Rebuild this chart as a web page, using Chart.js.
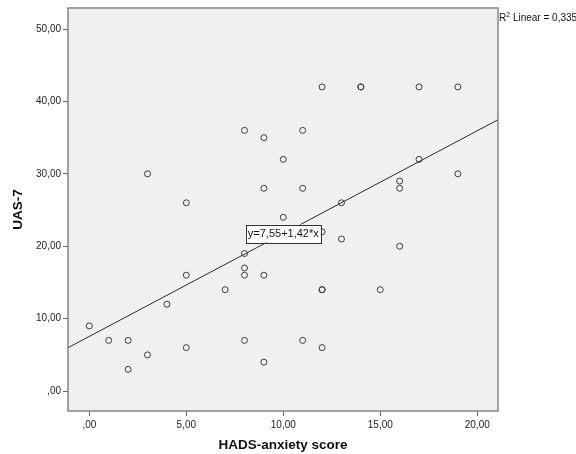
<!DOCTYPE html>
<html>
<head>
<meta charset="utf-8">
<script src="https://cdn.jsdelivr.net/npm/chart.js@4"></script>
<style>
  html, body { margin: 0; padding: 0; background: #fff; }
  #wrap { width: 576px; height: 454px; }
</style>
</head>
<body>
<div id="wrap"><canvas id="scatter" width="576" height="454"></canvas></div>
<script>
// === Data ===
const anxiety = [0, 1, 2, 2, 3, 3, 4, 5, 5, 5, 7, 8, 8, 8, 8, 8, 9, 9, 9, 9, 10, 10,
  11, 11, 11, 12, 12, 12, 12, 12, 13, 13, 14, 14, 15, 16, 16, 16, 17, 17, 19, 19];
const uas7 = [9, 7, 7, 3, 5, 30, 12, 16, 6, 26, 14, 19, 17, 16, 7, 36, 16, 4, 35, 28, 24, 32,
  36, 28, 7, 42, 22, 14, 14, 6, 26, 21, 42, 42, 14, 29, 28, 20, 42, 32, 42, 30];

const xTicks = [0, 5, 10, 15, 20];
const yTicks = [0, 10, 20, 30, 40, 50];
const xRange = [-1.1, 21.07];
const yRange = [-2.75, 52.9];

// fit line as printed on the chart
const intercept = 7.55;
const slope = 1.42;
const fitLabel = "y=7,55+1,42*x";
const fitLabelAt = 10;
const r2Text = " Linear = 0,335";

const FONT = "'Liberation Sans', Arial, sans-serif";

const fmt = v => (v === 0 ? ",00" : v.toFixed(2).replace(".", ","));

const points = anxiety.map((x, i) => ({ x: x, y: uas7[i] }));
const fitLine = xRange.map(x => ({ x: x, y: intercept + slope * x }));

// plot background + frame + labels
const frame = {
  id: "frame",
  beforeDatasetsDraw(chart) {
    const { ctx, chartArea: a } = chart;
    ctx.save();
    ctx.fillStyle = "#f0f0f0";
    ctx.fillRect(a.left, a.top, a.right - a.left, a.bottom - a.top);
    ctx.restore();
  },
  afterDatasetsDraw(chart) {
    const { ctx, chartArea: a, scales } = chart;
    ctx.save();
    ctx.strokeStyle = "#858585";
    ctx.lineWidth = 1.5;
    ctx.strokeRect(a.left, a.top, a.right - a.left, a.bottom - a.top);

    // equation box on the line
    const cx = scales.x.getPixelForValue(fitLabelAt);
    const cy = scales.y.getPixelForValue(intercept + slope * fitLabelAt);
    ctx.font = "11px " + FONT;
    const w = ctx.measureText(fitLabel).width + 4;
    const h = 18;
    ctx.fillStyle = "#fff";
    ctx.fillRect(cx - w / 2, cy - h / 2, w, h);
    ctx.strokeStyle = "#333";
    ctx.lineWidth = 1;
    ctx.strokeRect(Math.round(cx - w / 2) + 0.5, Math.round(cy - h / 2) + 0.5, Math.round(w), h);
    ctx.fillStyle = "#111";
    ctx.textAlign = "center";
    ctx.textBaseline = "middle";
    ctx.fillText(fitLabel, cx, cy + 0.5);

    // R² note outside the frame
    let tx = a.right + 1;
    const ty = a.top + 13;
    ctx.textAlign = "left";
    ctx.textBaseline = "alphabetic";
    ctx.font = "10px " + FONT;
    ctx.fillText("R", tx, ty);
    tx += ctx.measureText("R").width;
    ctx.font = "7px " + FONT;
    ctx.fillText("2", tx, ty - 4);
    tx += ctx.measureText("2").width;
    ctx.font = "10px " + FONT;
    ctx.fillText(r2Text, tx, ty);
    ctx.restore();
  }
};

new Chart(document.getElementById("scatter"), {
  type: "scatter",
  data: {
    datasets: [
      {
        data: points,
        pointRadius: 3,
        pointBorderWidth: 1,
        pointBorderColor: "#3c3c3c",
        pointBackgroundColor: "rgba(0,0,0,0)",
        order: 1
      },
      {
        type: "line",
        data: fitLine,
        borderColor: "#2b2b2b",
        borderWidth: 1,
        pointRadius: 0,
        fill: false,
        order: 2
      }
    ]
  },
  options: {
    responsive: false,
    devicePixelRatio: 1,
    animation: false,
    layout: { padding: { top: 6, right: 78, left: 0, bottom: 0 } },
    plugins: { legend: { display: false }, tooltip: { enabled: false } },
    scales: {
      x: {
        type: "linear",
        min: xRange[0],
        max: xRange[1],
        afterBuildTicks: axis => { axis.ticks = xTicks.map(v => ({ value: v })); },
        afterFit: axis => { axis.height = 43; },
        border: { display: false },
        grid: { drawOnChartArea: false, drawTicks: true, tickLength: 5, tickColor: "#666" },
        ticks: { padding: 3, color: "#222", font: { family: FONT, size: 10 }, callback: v => fmt(v), maxRotation: 0 },
        title: {
          display: true,
          text: "HADS-anxiety score",
          color: "#111",
          font: { family: FONT, size: 13.5, weight: "bold" },
          padding: { top: 0, bottom: 1 }
        }
      },
      y: {
        type: "linear",
        min: yRange[0],
        max: yRange[1],
        afterBuildTicks: axis => { axis.ticks = yTicks.map(v => ({ value: v })); },
        afterFit: axis => { axis.width = 68; },
        border: { display: false },
        grid: { drawOnChartArea: false, drawTicks: true, tickLength: 5, tickColor: "#666" },
        ticks: { padding: 2, color: "#222", font: { family: FONT, size: 10 }, callback: v => fmt(v) },
        title: {
          display: true,
          text: "UAS-7",
          color: "#111",
          font: { family: FONT, size: 13.5, weight: "bold" },
          padding: { top: 10, bottom: 0 }
        }
      }
    }
  },
  plugins: [frame]
});
</script>
</body>
</html>
